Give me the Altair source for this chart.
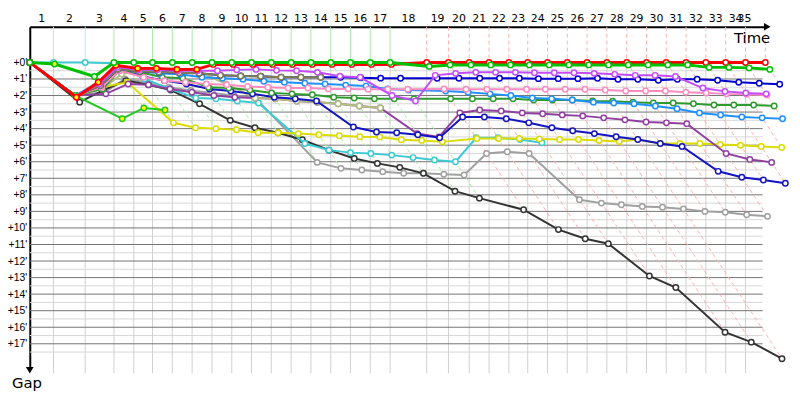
import altair as alt
import pandas as pd

# ---------------- data ----------------
# leader crossing time of each lap line (minutes), lap 0 = start
leader_times = [0.0, 2.18, 5.09, 7.73, 9.55, 11.27, 13.09, 14.91, 16.73, 18.55,
                20.36, 22.18, 24.0, 25.82, 27.64, 29.45, 31.27, 33.09, 36.45, 38.45,
                40.36, 42.18, 44.0, 45.73, 47.55, 49.36, 51.18, 53.0, 54.82, 56.64,
                58.45, 60.27, 62.09, 63.91, 65.73, 67.55]
lap_numbers = list(range(1, 36))
lap_label_times = [1.09, 3.64, 6.41, 8.64, 10.41, 12.18, 14.0, 15.82, 17.64, 19.45,
                   21.27, 23.09, 24.91, 26.73, 28.55, 30.36, 32.18, 34.77, 37.45, 39.41,
                   41.27, 43.09, 44.86, 46.64, 48.45, 50.27, 52.09, 53.91, 55.73, 57.55,
                   59.36, 61.18, 63.0, 64.82, 65.64]
gap_ticks = list(range(0, 18))
gap_half_lines = [g + 0.5 for g in range(0, 18)]

# gaps (minutes) per lap, index = lap
gaps_gray = [0, 2.0, 1.8, 1.0, 1.2, 1.5, 1.7, 1.85, 2.0, 2.1, 6.04, 6.4, 6.5, 6.6, 6.7, 6.7,
             6.76, 6.8, 5.5, 5.4, 5.5, 8.3, 8.5, 8.6, 8.7, 8.75, 8.85, 9.0, 9.05, 9.2, 9.3]
gaps_black = [0, 2.4, 1.67, 1.1, 1.35, 1.67, 2.5, 3.5, 3.95, 4.25, 4.67, 5.3, 5.8, 6.1, 6.34,
              6.7, 7.78, 8.2, 8.9, 10.1, 10.65, 10.95, 12.9, 13.6, 16.3, 16.9, 17.9]
gaps_cyan = [0, 0, 0, 0.05, 1.0, 1.6, 2.15, 2.2, 2.33, 2.45, 4.9, 5.3, 5.45, 5.5, 5.6, 5.75,
             5.9, 6.0, 4.55, 4.55, 4.66, 4.85]
gaps_yellow = [0, 2.0, 1.5, 1.2, 3.65, 3.95, 4.0, 4.07, 4.25, 4.25, 4.3, 4.37, 4.43, 4.49,
               4.5, 4.67, 4.72, 4.8, 4.6, 4.6, 4.6, 4.62, 4.66, 4.66, 4.72, 4.78, 4.66, 4.9,
               4.9, 4.9, 4.96, 5.0, 5.08, 5.14]
gaps_purple = [0, 2.0, 1.9, 1.3, 1.35, 1.6, 1.8, 2.0, 2.1, 2.15, 2.2, 2.33, 2.4, 2.5, 2.63,
               2.75, 4.3, 4.5, 3.05, 2.87, 2.93, 3.05, 3.1, 3.17, 3.23, 3.35, 3.47, 3.6, 3.65,
               3.7, 5.5, 5.86, 6.04]
gaps_lightolive = [0, 2.0, 1.6, 0.7, 0.5, 0.45, 0.4, 0.55, 1.3, 2.15, 2.2, 2.33, 2.4, 2.5,
                   2.63, 2.75]
gaps_bluelow = [0, 2.0, 1.4, 0.45, 0.85, 1.1, 1.3, 1.6, 1.73, 1.9, 2.1, 2.2, 2.33, 3.9, 4.2,
                4.25, 4.37, 4.55, 3.3, 3.3, 3.4, 3.65, 3.95, 4.13, 4.3, 4.49, 4.66, 4.9, 5.08,
                6.58, 6.94, 7.1, 7.3]
gaps_darkgreen = [0, 2.0, 1.6, 0.5, 0.6, 0.9, 0.96, 1.5, 1.55, 1.67, 1.85, 1.9, 1.95, 2.1,
                  2.15, 2.2, 2.2, 2.2, 2.2, 2.2, 2.2, 2.2, 2.27, 2.27, 2.27, 2.33, 2.35, 2.4,
                  2.45, 2.45, 2.5, 2.57, 2.57, 2.57, 2.63]
gaps_dodger = [0, 2.0, 1.2, 0.3, 0.54, 0.65, 0.72, 0.9, 0.96, 1.02, 1.14, 1.2, 1.26, 1.3,
               1.37, 1.43, 1.6, 1.67, 1.73, 1.8, 1.9, 2.0, 2.15, 2.2, 2.27, 2.4, 2.45, 2.5,
               2.63, 2.8, 3.05, 3.17, 3.3, 3.35, 3.4]
gaps_pink = [0, 2.0, 1.5, 0.5, 0.9, 1.1, 1.2, 1.3, 1.35, 1.45, 1.5, 1.55, 1.55, 1.6, 1.6,
             1.62, 1.62, 1.62, 1.6, 1.62, 1.62, 1.62, 1.62, 1.62, 1.62, 1.62, 1.67, 1.73,
             1.73, 1.73, 1.8, 1.85, 1.9, 1.92, 1.97]
gaps_blueup = [0, 2.0, 1.4, 0.4, 0.55, 0.58, 0.62, 0.65, 0.78, 0.82, 0.84, 0.9, 0.9, 0.9,
               0.9, 0.93, 0.95, 0.96, 0.96, 0.96, 0.96, 0.96, 0.96, 0.98, 0.98, 0.98, 0.96,
               1.02, 1.02, 1.08, 1.02, 1.02, 1.08, 1.2, 1.26, 1.32]
gaps_olive = [0, 2.0, 1.4, 0.4, 0.55, 0.58, 0.62, 0.65, 0.78, 0.82, 0.84, 0.9, 0.9, 0.9]
gaps_violet = [0, 2.0, 1.3, 0.3, 0.45, 0.45, 0.5, 0.5, 0.5, 0.45, 0.42, 0.48, 0.5, 0.6,
               0.84, 0.9, 2.0, 2.33, 0.78, 0.66, 0.6, 0.6, 0.6, 0.62, 0.62, 0.62, 0.66,
               0.72, 0.78, 0.78, 0.85, 1.55, 1.75, 1.85, 1.9]
gaps_lime = [0, 2.0, 3.4, 2.75, 2.87]
gaps_red = [0, 2.1, 1.2, 0.18, 0.36, 0.36, 0.42, 0.42, 0.12, 0.12, 0.12, 0.12, 0.12, 0.12,
            0.12, 0.12, 0.12, 0.12] + [0] * 18
gaps_green = [0, 0.1, 0.85] + [0] * 15 + [0.24, 0.15, 0.15, 0.15, 0.15, 0.15, 0.15, 0.15,
                                          0.15, 0.15, 0.15, 0.15, 0.15, 0.15, 0.3, 0.3, 0.33, 0.42]

# yellow-filled markers (series -> laps)
yellow_marks = {"red": [1, 2, 3, 4, 5, 6, 7], "green": [1], "lime": [2, 3, 4]}

# drawing order: bottom first
series = [
    ("gray", "#a0a0a0", 2, gaps_gray),
    ("black", "#333333", 2, gaps_black),
    ("cyan", "#3ccad2", 2, gaps_cyan),
    ("yellow", "#dcdc00", 2, gaps_yellow),
    ("purple", "#9040a0", 2, gaps_purple),
    ("lightolive", "#b0c080", 2, gaps_lightolive),
    ("bluelow", "#1414c0", 2, gaps_bluelow),
    ("darkgreen", "#2e9a2e", 2, gaps_darkgreen),
    ("dodger", "#1e90ff", 2, gaps_dodger),
    ("pink", "#ff8cc0", 2, gaps_pink),
    ("blueup", "#0000d0", 2, gaps_blueup),
    ("olive", "#808050", 2, gaps_olive),
    ("violet", "#c44cff", 2, gaps_violet),
    ("lime", "#22c822", 2, gaps_lime),
    ("red", "#ff0000", 3, gaps_red),
    ("green", "#00c000", 3, gaps_green),
]
pale = {"cyan": "#b4ecf2", "green": "#ace8ac", "red": "#ffb0b0"}

# ---------------- derived tables ----------------
rows = []
for name, col, w, gaps in series:
    for lap, g in enumerate(gaps):
        rows.append({"series": name, "lap": lap, "gap": g,
                     "t": leader_times[lap] + g,
                     "fill": "#ffff00" if lap in yellow_marks.get(name, []) else "#ffffff"})
pts = pd.DataFrame(rows)

lap_rows = []
for lap in range(1, len(leader_times)):
    sub = pts[pts.lap == lap]
    leader = sub.loc[sub.gap.idxmin(), "series"]
    gmax = sub.gap.max()
    lap_rows.append({"lap": lap, "t0": leader_times[lap], "g0": 0.0,
                     "t1": leader_times[lap] + gmax, "g1": gmax,
                     "pale": pale.get(leader, "#cccccc"), "dashed": leader == "red"})
laps = pd.DataFrame(lap_rows)

W, H = 742, 345
PX_PER_MIN_X = 11.0
PX_PER_MIN_Y = 16.72
X_MAX = W / PX_PER_MIN_X
Y_MIN = -36 / PX_PER_MIN_Y
Y_MAX = Y_MIN + H / PX_PER_MIN_Y
Y_BOTTOM = Y_MIN + 350 / PX_PER_MIN_Y
GRID_END = 67.3

xs = alt.Scale(domain=[0, X_MAX], nice=False, zero=False)
ys = alt.Scale(domain=[Y_MIN, Y_MAX], reverse=True, nice=False, zero=False)
xaxis = alt.Axis(orient="top", labels=False, ticks=False, grid=False,
                 domainColor="black", domainWidth=2, title=None)
yaxis = alt.Axis(values=gap_ticks, labelExpr="'+' + datum.value + \"'\"",
                 ticks=False, grid=False, domainColor="black", domainWidth=2,
                 labelFont="Liberation Sans", labelFontSize=10.5,
                 labelColor="black", labelPadding=3, title=None)


def X(f):
    return alt.X(f, scale=xs, axis=xaxis, title=None)


def Y(f):
    return alt.Y(f, scale=ys, axis=yaxis, title=None)


hgrid = pd.DataFrame({"g": gap_ticks + gap_half_lines,
                      "kind": ["dark"] * len(gap_ticks) + ["light"] * len(gap_half_lines),
                      "x0": 0.0, "x1": GRID_END})
vgrid = pd.DataFrame({"t": leader_times[1:35], "top": 0.0, "bot": Y_BOTTOM})
vtop = laps.assign(top=Y_MIN)

light_h = alt.Chart(hgrid).transform_filter("datum.kind == 'light'").mark_rule(
    color="#d8d8d8", strokeWidth=1).encode(x=X("x0:Q"), x2="x1:Q", y=Y("g:Q"))
gray_v = alt.Chart(vgrid).mark_rule(color="#d0d0d0", strokeWidth=1).encode(
    x=X("t:Q"), y=Y("top:Q"), y2="bot:Q")
dark_h = alt.Chart(hgrid).transform_filter("datum.kind == 'dark'").mark_rule(
    color="#737373", strokeWidth=1).encode(x=X("x0:Q"), x2="x1:Q", y=Y("g:Q"))
top_solid = alt.Chart(vtop).transform_filter("!datum.dashed").mark_rule(strokeWidth=1).encode(
    x=X("t0:Q"), y=Y("top:Q"), y2="g0:Q", color=alt.Color("pale:N", scale=None))
top_dash = alt.Chart(vtop).transform_filter("datum.dashed").mark_rule(
    strokeWidth=1, strokeDash=[4, 3]).encode(
    x=X("t0:Q"), y=Y("top:Q"), y2="g0:Q", color=alt.Color("pale:N", scale=None))
diag = alt.Chart(laps).mark_rule(strokeWidth=1, strokeDash=[4, 3]).encode(
    x=X("t0:Q"), y=Y("g0:Q"), x2="t1:Q", y2="g1:Q", color=alt.Color("pale:N", scale=None))

layers = [light_h, gray_v, dark_h, top_solid, top_dash, diag]

for name, col, w, gaps in series:
    d = pts[pts.series == name]
    layers.append(alt.Chart(d).mark_line(color=col, strokeWidth=w).encode(
        x=X("t:Q"), y=Y("gap:Q"), order="lap:Q"))
    layers.append(alt.Chart(d).mark_circle(size=30, stroke=col, strokeWidth=1.5, opacity=1).encode(
        x=X("t:Q"), y=Y("gap:Q"), fill=alt.Fill("fill:N", scale=None)))

lab = pd.DataFrame({"t": lap_label_times, "lap": [str(n) for n in lap_numbers]})
layers.append(alt.Chart(lab).mark_text(font="DejaVu Sans", fontSize=11, color="black",
                                       baseline="middle").encode(
    x=X("t:Q"), y=alt.value(-8), text="lap:N"))

one = pd.DataFrame({"a": [1]})
layers.append(alt.Chart(one).mark_point(shape="triangle-right", filled=True, color="black",
                                        size=60, opacity=1).encode(x=alt.value(745), y=alt.value(0)))
layers.append(alt.Chart(one).mark_point(shape="triangle-down", filled=True, color="black",
                                        size=60, opacity=1).encode(x=alt.value(0), y=alt.value(347)))
layers.append(alt.Chart(pd.DataFrame({"s": ["Time"]})).mark_text(
    font="DejaVu Sans", fontSize=15, align="right", baseline="middle", color="black").encode(
    x=alt.value(748), y=alt.value(11), text="s:N"))
layers.append(alt.Chart(pd.DataFrame({"s": ["Gap"]})).mark_text(
    font="DejaVu Sans", fontSize=15, align="left", baseline="middle", color="black").encode(
    x=alt.value(-18), y=alt.value(360), text="s:N"))

chart = alt.layer(*layers).properties(
    width=W, height=H, autosize="none",
    padding={"left": 22, "top": 17, "right": 28, "bottom": 26},
).configure_view(stroke=None)

chart.save("out.html", embed_options={"renderer": "svg", "actions": False})
